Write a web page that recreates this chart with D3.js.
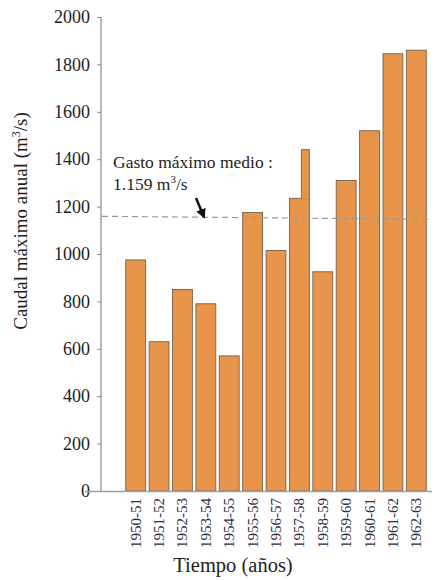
<!DOCTYPE html>
<html>
<head>
<meta charset="utf-8">
<script src="https://cdn.jsdelivr.net/npm/d3@7"></script>
<style>
  html, body { margin: 0; padding: 0; background: #fff; }
</style>
</head>
<body>
<div id="chart"></div>
<script>
// caudal maximo anual por año hidrologico
const years = ["1950-51","1951-52","1952-53","1953-54","1954-55","1955-56","1956-57",
               "1957-58","1958-59","1959-60","1960-61","1961-62","1962-63"];
const caudal = [975, 630, 850, 790, 570, 1175, 1015, 1235, 925, 1310, 1520, 1845, 1860];
// the 1957-58 bar has a narrow peak on its right side
const peakYear = "1957-58";
const peakValue = 1440;
const media = 1159;
const yTicks = [0, 200, 400, 600, 800, 1000, 1200, 1400, 1600, 1800, 2000];

const width = 446, height = 580;
const serif = "'Liberation Serif', 'DejaVu Serif', serif";

const svg = d3.select("#chart").append("svg")
    .attr("width", width)
    .attr("height", height)
    .attr("font-family", serif);

const x = d3.scaleBand()
    .domain(years)
    .range([124, 428])
    .paddingInner(0.15)
    .paddingOuter(0.075);

const y = d3.scaleLinear()
    .domain([0, 2000])
    .range([491, 17]);

const barFill = "#e8944a", barStroke = "#76604c";

// bars
svg.append("g").selectAll("rect")
  .data(years)
  .join("rect")
    .attr("x", d => x(d))
    .attr("y", (d, i) => y(caudal[i]))
    .attr("width", x.bandwidth())
    .attr("height", (d, i) => y(0) - y(caudal[i]))
    .attr("fill", barFill)
    .attr("stroke", barStroke)
    .attr("stroke-width", 0.9);

// narrow peak on 1957-58
const pw = x.bandwidth() * 0.4;
const pi = years.indexOf(peakYear);
svg.append("rect")
    .attr("x", x(peakYear) + x.bandwidth() - pw)
    .attr("y", y(peakValue))
    .attr("width", pw)
    .attr("height", y(caudal[pi]) - y(peakValue) + 0.5)
    .attr("fill", barFill)
    .attr("stroke", barStroke)
    .attr("stroke-width", 0.9);
svg.append("rect") // hide the seam under the peak
    .attr("x", x(peakYear) + x.bandwidth() - pw + 0.5)
    .attr("y", y(caudal[pi]) - 1)
    .attr("width", pw - 1)
    .attr("height", 2)
    .attr("fill", barFill);

// y axis
const yAxis = d3.axisLeft(y).tickValues(yTicks).tickFormat(d3.format("d"))
    .tickSize(4).tickPadding(7);
const gy = svg.append("g")
    .attr("transform", "translate(101,0)")
    .call(yAxis)
    .attr("font-family", serif)
    .attr("font-size", 18);
gy.select(".domain").attr("stroke", "#8a8a8a").attr("stroke-width", 1.2)
    .attr("d", `M0,${y(2000)}V${y(0)}`);
gy.selectAll(".tick line").attr("stroke", "#8a8a8a");
gy.selectAll(".tick text").attr("fill", "#1e1e1e");

// x axis baseline
svg.append("line")
    .attr("x1", 85).attr("x2", 432)
    .attr("y1", y(0) + 0.5).attr("y2", y(0) + 0.5)
    .attr("stroke", "#9aa0a8")
    .attr("stroke-width", 1.5);

// x labels (rotated)
svg.append("g").selectAll("text")
  .data(years)
  .join("text")
    .attr("transform", d => `translate(${x(d) + x.bandwidth() / 2 + 5},498) rotate(-90)`)
    .attr("text-anchor", "end")
    .attr("fill", "#2b3045")
    .attr("font-size", 15)
    .text(d => d);

// mean line
svg.append("line")
    .attr("x1", 102).attr("x2", 432)
    .attr("y1", y(media)).attr("y2", y(media) + 3)
    .attr("stroke", "#9a9a9a")
    .attr("stroke-width", 1.2)
    .attr("stroke-dasharray", "6,4");

// annotation
svg.append("text")
    .attr("x", 113)
    .attr("y", 168)
    .attr("fill", "#1e1e1e")
    .attr("font-size", 17.5)
    .text("Gasto máximo medio :");
const l2 = svg.append("text")
    .attr("x", 113)
    .attr("y", 190)
    .attr("fill", "#1e1e1e")
    .attr("font-size", 17.5);
l2.append("tspan").text("1.159 m");
l2.append("tspan").attr("dy", -7).attr("font-size", 11).text("3");
l2.append("tspan").attr("dy", 7).text("/s");

// arrow
svg.append("defs").append("marker")
    .attr("id", "ah")
    .attr("viewBox", "0 0 10 10")
    .attr("refX", 8).attr("refY", 5)
    .attr("markerWidth", 4).attr("markerHeight", 4)
    .attr("orient", "auto")
  .append("path")
    .attr("d", "M0,0L10,5L0,10z")
    .attr("fill", "#111");
svg.append("line")
    .attr("x1", 196).attr("y1", 198)
    .attr("x2", 204).attr("y2", 217)
    .attr("stroke", "#111")
    .attr("stroke-width", 2.5)
    .attr("marker-end", "url(#ah)");

// axis titles
const yt = svg.append("text")
    .attr("transform", "translate(27,221) rotate(-90)")
    .attr("text-anchor", "middle")
    .attr("fill", "#1e1e1e")
    .attr("font-size", 19);
yt.append("tspan").text("Caudal máximo anual (m");
yt.append("tspan").attr("dy", -7).attr("font-size", 12).text("3");
yt.append("tspan").attr("dy", 7).text("/s)");

svg.append("text")
    .attr("x", 233)
    .attr("y", 572)
    .attr("text-anchor", "middle")
    .attr("fill", "#1e1e1e")
    .attr("font-size", 20.5)
    .text("Tiempo (años)");
</script>
</body>
</html>
